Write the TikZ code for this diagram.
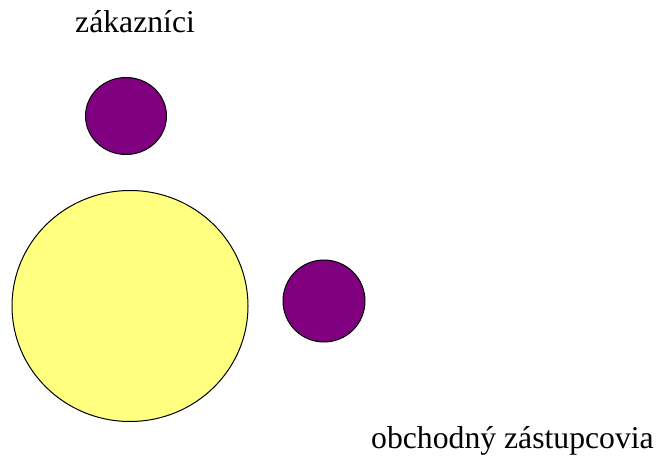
\documentclass[tikz,border=0pt]{standalone}
\usepackage{fontspec}
\setmainfont{Liberation Serif}
\usetikzlibrary{shapes.geometric}
\definecolor{dotpurple}{HTML}{800080}
\definecolor{bigyellow}{HTML}{FFFF80}
\tikzset{
  blob/.style={ellipse, draw=black, line width=1pt, inner sep=0pt},
  small/.style={blob, fill=dotpurple, minimum width=81pt, minimum height=77pt},
  big/.style={blob, fill=bigyellow, minimum width=236pt, minimum height=231pt},
  lbl/.style={anchor=base west, inner sep=0pt, font=\fontsize{31.7pt}{36pt}\selectfont}
}
\begin{document}
\begin{tikzpicture}[x=1pt,y=-1pt]
\useasboundingbox (0,0) rectangle (661,457);
\node[lbl] (cust) at (75,32.5) {zákazníci};
\node[small] (c1) at (126,116) {};
\node[big] (core) at (130,306) {};
\node[small, minimum width=82pt, minimum height=82pt] (c2) at (324,301) {};
\node[lbl] (reps) at (371,448) {obchodný zástupcovia};
\end{tikzpicture}
\end{document}
